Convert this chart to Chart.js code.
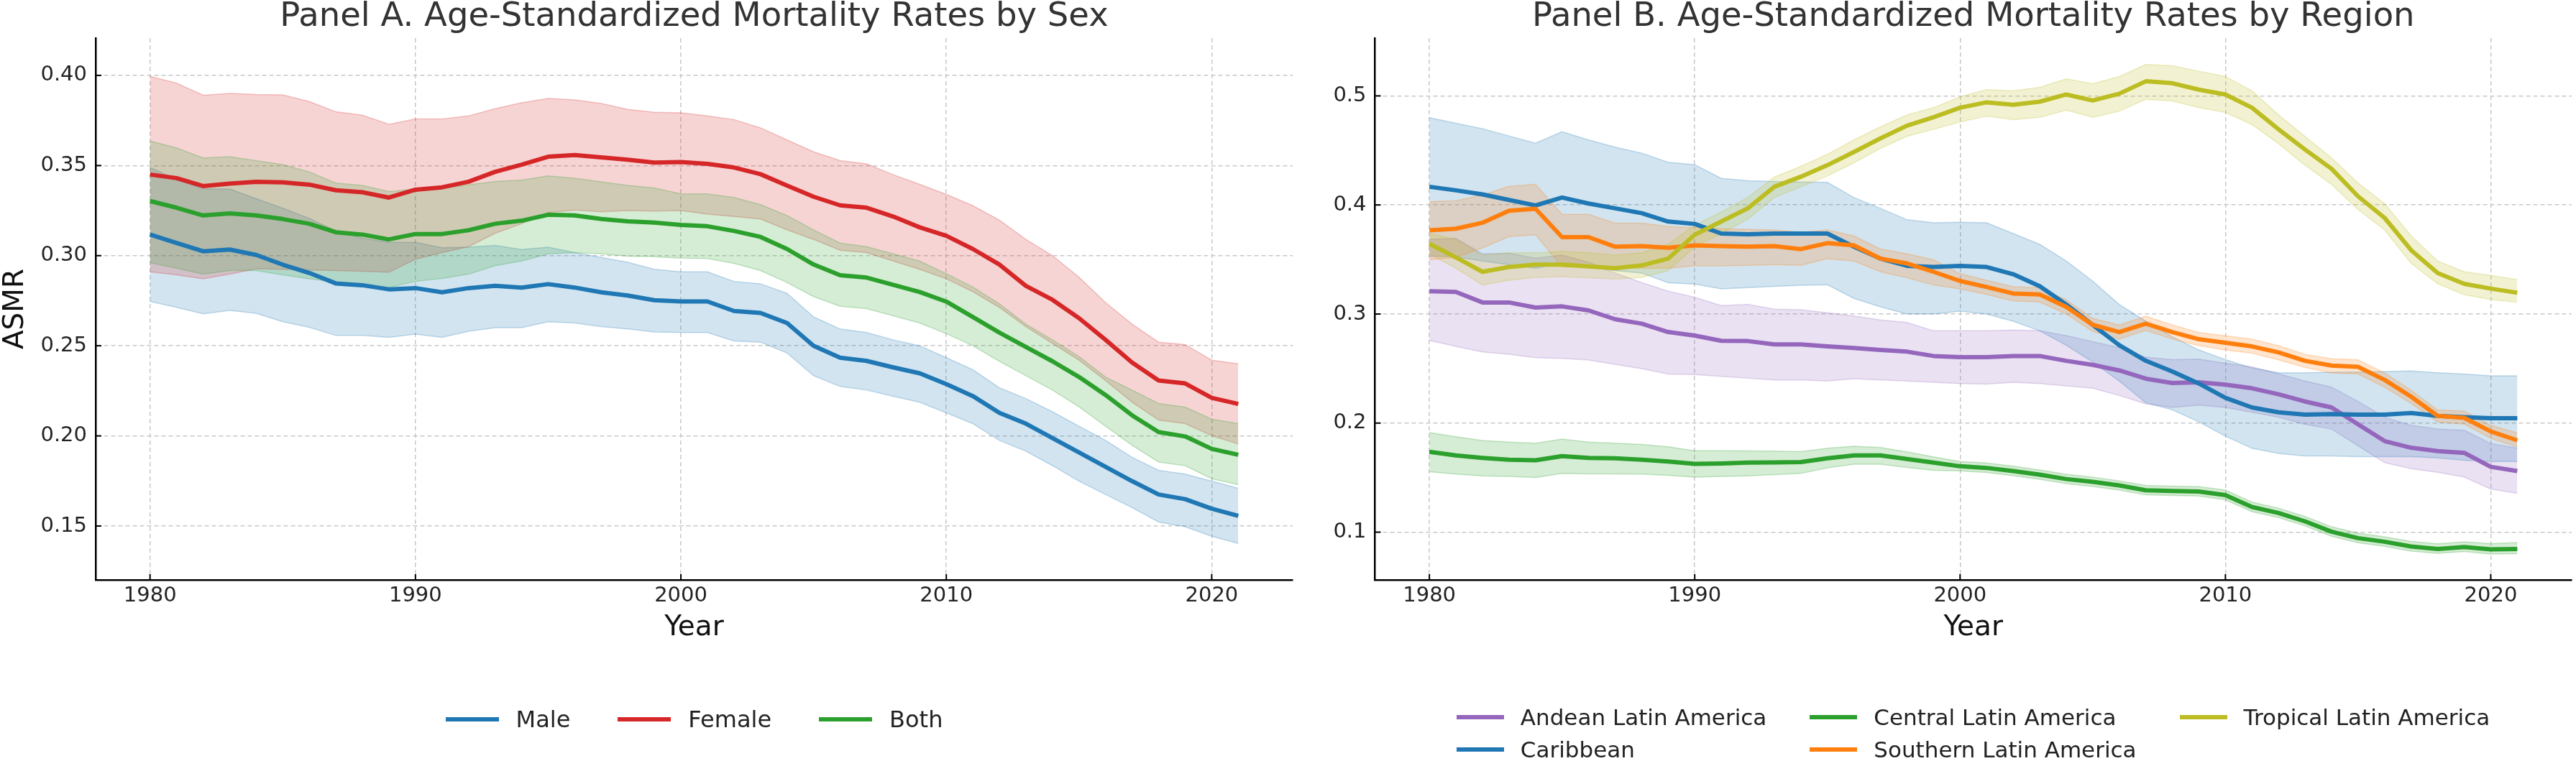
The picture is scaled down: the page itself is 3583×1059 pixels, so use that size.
<!DOCTYPE html>
<html>
<head>
<meta charset="utf-8">
<script src="https://cdn.jsdelivr.net/npm/chart.js@4.4.1/dist/chart.umd.min.js"></script>
<style>
html, body { margin: 0; padding: 0; background: #fff; }
body { width: 3583px; height: 1059px; position: relative; overflow: hidden; font-family: "DejaVu Sans", sans-serif; }
canvas { position: absolute; top: 0; }
#chartA { left: 0; }
#chartB { left: 1800px; }
.legend { position: absolute; color: #222; }
#legendA { left: 133px; width: 1665px; top: 981px; height: 40px; display: flex; justify-content: center; align-items: center; gap: 66px; font-size: 32px; }
#legendA .swatch { width: 74px; margin-right: 24px; }
#legendB { left: 1912px; width: 1665px; top: 975px; display: flex; justify-content: center; }
#legendB .grid { display: grid; grid-template-rows: 45px 45px; grid-auto-flow: column; column-gap: 60px; font-size: 31px; }
#legendB .swatch { width: 66px; margin-right: 23px; }
.item { display: flex; align-items: center; white-space: nowrap; }
.swatch { display: inline-block; height: 6px; }
</style>
</head>
<body>
<canvas id="chartA" width="1800" height="1059"></canvas>
<canvas id="chartB" width="1783" height="1059"></canvas>
<div class="legend" id="legendA"></div>
<div class="legend" id="legendB"><div class="grid"></div></div>
<script>
// 年份
const years = [1980, 1981, 1982, 1983, 1984, 1985, 1986, 1987, 1988, 1989,
  1990, 1991, 1992, 1993, 1994, 1995, 1996, 1997, 1998, 1999,
  2000, 2001, 2002, 2003, 2004, 2005, 2006, 2007, 2008, 2009,
  2010, 2011, 2012, 2013, 2014, 2015, 2016, 2017, 2018, 2019,
  2020, 2021];

const xTicks = [1980, 1990, 2000, 2010, 2020];
const yTicksA = [0.15, 0.20, 0.25, 0.30, 0.35, 0.40];
const yLabelsA = ['0.15', '0.20', '0.25', '0.30', '0.35', '0.40'];
const yTicksB = [0.1, 0.2, 0.3, 0.4, 0.5];
const yLabelsB = ['0.1', '0.2', '0.3', '0.4', '0.5'];

// Panel A: by sex
const maleMean = [.3117, .307, .3024, .3034, .3004, .295, .2904, .2846, .2836, .2813,
  .282, .2797, .282, .2833, .2823, .2842, .2823, .2797, .2779, .2753,
  .2746, .2746, .2693, .2682, .2626, .25, .2434, .2416, .238, .2347,
  .2287, .2221, .2128, .2068, .1988, .1908, .1828, .1749, .1675, .1649,
  .1596, .1556];
const maleUpper = [.3489, .3423, .337, .337, .3316, .3263, .3207, .3137, .3097, .3074,
  .3074, .3044, .3047, .3057, .3034, .3047, .3017, .299, .2963, .2924,
  .291, .291, .2857, .2844, .2791, .266, .2593, .2573, .2533, .25,
  .2434, .2367, .2267, .2207, .2134, .2054, .1975, .1881, .1809, .1788,
  .1749, .1709];
const maleLower = [.2746, .2713, .2677, .2696, .268, .2633, .2602, .2557, .2557, .2547,
  .2564, .2547, .258, .26, .26, .2633, .2626, .2606, .2593, .2576,
  .2573, .2573, .2527, .252, .246, .2334, .2274, .2254, .222, .2187,
  .2128, .2068, .1975, .1915, .1835, .1749, .1675, .1602, .1522, .1496,
  .1443, .1403];

const femaleMean = [.345, .343, .3386, .340, .341, .3407, .3394, .3363, .3352, .3322,
  .3366, .3379, .341, .3465, .3505, .3549, .3558, .3545, .3532, .3516,
  .3519, .3509, .3489, .3452, .3389, .3327, .3279, .3266, .3217, .3157,
  .311, .3037, .2951, .2832, .2755, .2653, .2533, .2407, .2307, .2291,
  .2211, .2177];
const femaleUpper = [.3995, .3957, .389, .390, .3894, .3892, .3855, .3798, .3779, .3729,
  .3758, .3758, .3775, .3815, .3848, .3872, .3864, .3844, .3811, .3795,
  .3792, .3775, .3755, .3709, .3642, .3576, .3527, .3509, .3449, .3396,
  .334, .3277, .3197, .309, .300, .288, .274, .262, .252, .2507,
  .242, .240];
const femaleLower = [.291, .2893, .2871, .2897, .2927, .2924, .292, .2917, .2913, .2908,
  .298, .3017, .305, .3124, .3177, .3239, .3253, .3243, .325, .3247,
  .325, .323, .3217, .3203, .3143, .309, .303, .3017, .297, .2924,
  .2871, .280, .2713, .2606, .2513, .242, .2307, .2187, .2088, .2068,
  .2001, .1955];

const bothMean = [.3303, .3266, .3223, .3234, .3223, .3203, .3177, .313, .3117, .309,
  .312, .312, .3141, .3177, .3194, .3227, .3223, .3203, .319, .3183,
  .317, .3163, .3137, .3104, .3037, .2951, .2891, .2878, .2838, .2798,
  .2745, .266, .2573, .2493, .2414, .2327, .2227, .2114, .2021, .1997,
  .1928, .1895];
const bothUpper = [.3636, .3598, .3542, .3549, .3527, .3505, .3465, .3403, .339, .3356,
  .337, .3372, .3394, .3412, .342, .3443, .343, .341, .339, .3376,
  .3343, .3343, .3323, .3283, .3223, .3143, .307, .305, .301, .297,
  .290, .2826, .2733, .262, .2533, .244, .2327, .2254, .218, .216,
  .2093, .2068];
const bothLower = [.2961, .293, .2897, .2917, .2917, .2893, .2871, .2853, .2838, .2824,
  .2857, .2873, .2897, .2944, .297, .301, .3017, .301, .2997, .2994,
  .2986, .2984, .2957, .2917, .2851, .2773, .2719, .2706, .2666, .2626,
  .2567, .25, .2414, .2334, .2254, .2161, .2054, .1948, .1855, .1835,
  .1762, .1729];

// Panel B: by region
const andeanMean = [.3209, .3202, .3106, .3106, .3059, .307, .3033, .2952, .2912, .2835,
  .2802, .2754, .2752, .2721, .2721, .2703, .2688, .267, .2655, .2615,
  .2604, .2604, .2615, .2615, .2571, .2534, .2483, .2407, .2367, .2374,
  .2352, .2319, .2264, .2198, .2143, .1989, .1835, .1774, .1743, .1727,
  .1599, .156];
const andeanUpper = [.3683, .3694, .3551, .3556, .3512, .354, .3475, .3376, .3288, .321,
  .3154, .3077, .3088, .3044, .304, .3011, .2982, .2945, .2923, .2846,
  .2846, .2846, .2853, .2846, .2802, .2747, .2692, .2604, .2582, .2587,
  .2549, .2516, .2451, .2385, .233, .2198, .2055, .1978, .1945, .1934,
  .1813, .1769];
const andeanLower = [.2758, .2703, .2653, .2631, .26, .2593, .2578, .2538, .2499, .245,
  .2444, .2429, .2411, .2396, .2396, .2385, .2407, .2396, .2385, .2374,
  .2363, .2358, .2374, .2363, .2341, .2319, .2253, .2176, .2143, .2165,
  .2143, .2099, .2055, .1989, .1945, .1791, .1637, .1582, .1549, .1505,
  .1396, .1356];

const caribMean = [.4167, .4134, .4097, .4046, .3996, .4068, .4013, .3969, .3925, .3848,
  .3826, .3738, .3732, .3738, .3738, .3738, .3617, .3508, .3442, .3431,
  .3442, .3431, .3365, .3255, .3088, .2901, .2714, .2571, .2473, .2363,
  .2231, .2143, .2099, .2077, .2083, .2077, .2077, .2092, .2066, .2055,
  .2044, .2044];
const caribUpper = [.48, .4749, .4699, .4633, .4567, .4672, .4596, .453, .4475, .4391,
  .4369, .4244, .4222, .4215, .4211, .4207, .4068, .3969, .3864, .3837,
  .3842, .3837, .3738, .3639, .3486, .33, .3088, .2934, .2791, .267,
  .2582, .2505, .2461, .2461, .2466, .2468, .2472, .2477, .2461, .245,
  .2433, .2433];
const caribLower = [.353, .3525, .3486, .3453, .342, .3464, .3431, .3398, .3376, .3286,
  .3275, .3231, .3242, .3253, .3264, .3268, .3143, .3066, .30, .30,
  .3026, .30, .2934, .2846, .2714, .256, .2385, .2187, .2121, .2011,
  .1879, .1769, .1721, .1699, .1699, .1692, .1692, .1692, .1681, .1659,
  .1648, .1648];

const centralMean = [.1736, .1703, .1681, .1664, .1659, .1697, .1681, .1677, .1664, .1648,
  .1626, .163, .1637, .1639, .1642, .1677, .1703, .1703, .167, .1637,
  .1604, .1589, .156, .1527, .1487, .1461, .1428, .1384, .1378, .1373,
  .134, .1231, .1176, .1099, .1004, .0945, .0912, .0868, .0846, .0864,
  .0842, .0846];
const centralUpper = [.1912, .1875, .184, .1825, .1815, .1853, .1825, .1815, .1804, .1782,
  .1747, .1747, .1745, .1743, .1738, .1769, .1787, .1776, .1736, .169,
  .1648, .1635, .1605, .157, .153, .1505, .147, .1428, .1422, .1417,
  .1385, .1275, .122, .1143, .1049, .099, .0957, .0914, .0893, .0912,
  .0895, .0905];
const centralLower = [.1554, .1532, .1516, .151, .1501, .1538, .1534, .1534, .1532, .1521,
  .1505, .151, .1516, .1527, .1538, .1589, .1622, .1622, .1593, .1567,
  .1562, .1547, .1518, .1485, .1445, .1418, .1386, .1342, .1336, .1331,
  .1297, .1188, .1133, .1057, .0962, .0903, .087, .0826, .0805, .0822,
  .08, .0803];

const southernMean = [.3767, .3782, .3837, .3947, .3965, .3705, .3705, .3617, .3622, .3607,
  .3629, .3622, .3617, .3622, .3595, .365, .3629, .3508, .3464, .3387,
  .3303, .3248, .3188, .318, .3066, .2901, .2835, .2912, .2835, .2769,
  .2736, .2703, .2648, .2571, .2527, .2516, .2396, .2242, .2066, .2048,
  .1923, .1842];
const southernUpper = [.4029, .404, .409, .4171, .4189, .3914, .3914, .3833, .3833, .3804,
  .3793, .3782, .3776, .3771, .3749, .3771, .3716, .3596, .3552, .3497,
  .337, .331, .325, .324, .313, .296, .290, .298, .290, .283,
  .280, .277, .271, .263, .259, .258, .246, .230, .212, .211,
  .198, .191];
const southernLower = [.3497, .3519, .3606, .371, .3727, .3431, .3431, .342, .342, .342,
  .3442, .3442, .3446, .3453, .3446, .3508, .3486, .3387, .3332, .3266,
  .323, .318, .312, .311, .300, .284, .277, .285, .277, .271,
  .267, .264, .258, .251, .246, .245, .233, .218, .201, .199,
  .186, .178];

const tropicalMean = [.3644, .3519, .3387, .3431, .3453, .3453, .3437, .342, .3446, .3508,
  .3727, .3848, .3969, .4167, .4259, .4365, .4486, .4611, .4727, .4804,
  .4892, .4941, .4919, .4947, .5013, .4958, .502, .5134, .5116, .5057,
  .5013, .4892, .4694, .4508, .4332, .4079, .3881, .3585, .3376, .3277,
  .3233, .3195];
const tropicalUpper = [.3738, .3683, .354, .3562, .3562, .3573, .3562, .354, .3562, .3639,
  .3815, .3936, .4068, .4255, .4354, .4464, .4596, .4716, .4826, .4892,
  .4991, .5057, .5046, .5079, .5156, .5112, .5178, .5288, .5277, .5226,
  .5178, .5046, .4826, .4629, .4431, .42, .4013, .3716, .3486, .3387,
  .3354, .3314];
const tropicalLower = [.3551, .342, .3266, .331, .3336, .3343, .3332, .3321, .3336, .3398,
  .3617, .3738, .387, .4068, .4167, .4266, .4387, .4519, .4629, .4694,
  .476, .4815, .4782, .4804, .487, .4804, .4859, .4969, .4954, .4892,
  .4848, .4738, .4562, .4365, .4189, .3958, .3771, .3464, .3277, .3178,
  .3134, .3108];

const FONT = '"DejaVu Sans", sans-serif';

function rgba(hex, a) {
  const n = parseInt(hex.slice(1), 16);
  return `rgba(${(n >> 16) & 255},${(n >> 8) & 255},${n & 255},${a})`;
}

// 每个系列 = 上界 + 下界(填充到上界) + 均值线
function seriesSets(label, color, mean, lower, upper) {
  const pts = arr => arr.map((v, i) => ({ x: years[i], y: v }));
  const band = { borderColor: rgba(color, 0.25), borderWidth: 1.5, pointRadius: 0, tension: 0 };
  return [
    { ...band, label: label + ' upper', data: pts(upper), fill: false, isBand: true },
    { ...band, label: label + ' lower', data: pts(lower), fill: '-1', backgroundColor: rgba(color, 0.2), isBand: true },
    { label, data: pts(mean), borderColor: color, borderWidth: 6, pointRadius: 0, tension: 0,
      fill: false, borderJoinStyle: 'round', borderCapStyle: 'butt' }
  ];
}

// 刻度向内
const innerTicks = {
  id: 'innerTicks',
  afterDraw(chart) {
    const { ctx, chartArea: a, scales: { x, y } } = chart;
    ctx.save();
    ctx.strokeStyle = '#000';
    ctx.lineWidth = 2;
    x.ticks.forEach(t => {
      const px = x.getPixelForValue(t.value);
      ctx.beginPath(); ctx.moveTo(px, a.bottom); ctx.lineTo(px, a.bottom - 8); ctx.stroke();
    });
    y.ticks.forEach(t => {
      const py = y.getPixelForValue(t.value);
      ctx.beginPath(); ctx.moveTo(a.left, py); ctx.lineTo(a.left + 8, py); ctx.stroke();
    });
    ctx.restore();
  }
};

// 面板标题，居中于绘图区
const panelTitle = {
  id: 'panelTitle',
  afterDraw(chart, args, opts) {
    const { ctx, chartArea: a } = chart;
    ctx.save();
    ctx.font = `46.5px ${FONT}`;
    ctx.fillStyle = '#333';
    ctx.textAlign = 'center';
    ctx.textBaseline = 'middle';
    ctx.fillText(opts.text, (a.left + a.right) / 2, opts.y);
    ctx.restore();
  }
};

function makeChart(id, cfg) {
  const datasets = cfg.series.flatMap(s => seriesSets(...s));
  // bands first, then lines on top (later series above earlier)
  datasets.forEach((d, i) => { d.order = (d.isBand ? 1000 : 0) + datasets.length - i; });
  return new Chart(document.getElementById(id), {
    type: 'line',
    data: { datasets },
    options: {
      responsive: false,
      devicePixelRatio: 1,
      animation: false,
      events: [],
      layout: { padding: { left: 0, right: cfg.padRight, top: 53, bottom: 162 } },
      plugins: {
        legend: { display: false },
        tooltip: { enabled: false },
        panelTitle: { text: cfg.title, y: 24 }
      },
      scales: {
        x: {
          type: 'linear', min: 1977.95, max: 2023.05,
          afterBuildTicks: s => { s.ticks = xTicks.map(v => ({ value: v })); },
          afterFit: s => { s.height = 90; },
          ticks: { font: { family: FONT, size: 29 }, color: '#222', padding: 5, callback: v => String(v) },
          grid: { color: '#c8c8c8', lineWidth: 1.5, drawTicks: false },
          border: { display: true, color: '#000', width: 2.5, dash: [6, 4] },
          title: { display: true, text: 'Year', color: '#111', font: { family: FONT, size: 39, lineHeight: 1 }, padding: { top: 0, bottom: 4 } }
        },
        y: {
          type: 'linear', min: cfg.yMin, max: cfg.yMax,
          afterBuildTicks: s => { s.ticks = cfg.yTicks.map(v => ({ value: v })); },
          afterFit: s => { s.width = cfg.yWidth; },
          ticks: { font: { family: FONT, size: 29 }, color: '#222', padding: 12, callback: (v, i) => cfg.yLabels[i] },
          grid: { color: '#c8c8c8', lineWidth: 1.5, drawTicks: false },
          border: { display: true, color: '#000', width: 2.5, dash: [6, 4] },
          title: { display: !!cfg.yTitle, text: cfg.yTitle || '', color: '#111', font: { family: FONT, size: 39, lineHeight: 1 }, padding: { top: 2, bottom: 0 } }
        }
      }
    },
    plugins: [innerTicks, panelTitle]
  });
}

const seriesA = [
  ['Male', '#1f77b4', maleMean, maleLower, maleUpper],
  ['Female', '#d62728', femaleMean, femaleLower, femaleUpper],
  ['Both', '#2ca02c', bothMean, bothLower, bothUpper]
];
const seriesB = [
  ['Andean Latin America', '#9467bd', andeanMean, andeanLower, andeanUpper],
  ['Caribbean', '#1f77b4', caribMean, caribLower, caribUpper],
  ['Central Latin America', '#2ca02c', centralMean, centralLower, centralUpper],
  ['Southern Latin America', '#ff7f0e', southernMean, southernLower, southernUpper],
  ['Tropical Latin America', '#bcbd22', tropicalMean, tropicalLower, tropicalUpper]
];

makeChart('chartA', {
  series: seriesA, title: 'Panel A. Age-Standardized Mortality Rates by Sex',
  yMin: 0.1201, yMax: 0.4207, yTicks: yTicksA, yLabels: yLabelsA, yWidth: 133, padRight: 2, yTitle: 'ASMR'
});
makeChart('chartB', {
  series: seriesB, title: 'Panel B. Age-Standardized Mortality Rates by Region',
  yMin: 0.0562, yMax: 0.553, yTicks: yTicksB, yLabels: yLabelsB, yWidth: 112.5, padRight: 6
});

// 图例
function fillLegend(el, series) {
  series.forEach(([label, color]) => {
    const item = document.createElement('div');
    item.className = 'item';
    item.innerHTML = `<span class="swatch" style="background:${color}"></span><span>${label}</span>`;
    el.appendChild(item);
  });
}
fillLegend(document.getElementById('legendA'), seriesA);
fillLegend(document.querySelector('#legendB .grid'), seriesB);
</script>
</body>
</html>
